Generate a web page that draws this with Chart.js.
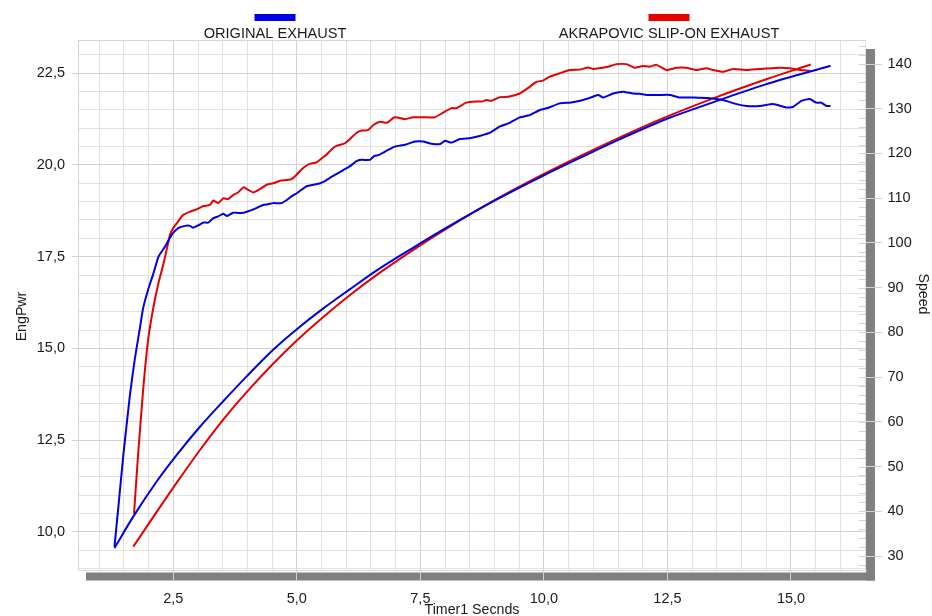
<!DOCTYPE html>
<html>
<head>
<meta charset="utf-8">
<title>Dyno run</title>
<script src="https://cdn.jsdelivr.net/npm/chart.js@4.4.1/dist/chart.umd.min.js"></script>
<style>
  html, body { margin: 0; padding: 0; background: #fff; }
  canvas { display: block; }
</style>
</head>
<body>
<canvas id="dyno" width="932" height="616"></canvas>
<script>
  "use strict";

  // run labels
  const runLabels = ["ORIGINAL EXHAUST", "AKRAPOVIC SLIP-ON EXHAUST"];

  // [time s, engine power] original exhaust
  const origPower = [
    [1.31, 9.59], [1.39, 10.7], [1.49, 12.1], [1.62, 13.7], [1.72, 14.7], [1.83, 15.6],
    [1.89, 16.1], [1.99, 16.6], [2.1, 17.05], [2.2, 17.5], [2.33, 17.77], [2.47, 18.1],
    [2.6, 18.28], [2.74, 18.34], [2.84, 18.34], [2.9, 18.29], [3.0, 18.35], [3.11, 18.43],
    [3.21, 18.43], [3.31, 18.55], [3.41, 18.6], [3.51, 18.67], [3.59, 18.61], [3.71, 18.7],
    [3.82, 18.69], [3.92, 18.7], [4.02, 18.74], [4.12, 18.79], [4.22, 18.85], [4.32, 18.91],
    [4.42, 18.93], [4.52, 18.96], [4.69, 18.96], [4.8, 19.05], [4.9, 19.15], [5.0, 19.23],
    [5.1, 19.33], [5.2, 19.42], [5.33, 19.46], [5.47, 19.5], [5.57, 19.56], [5.67, 19.65],
    [5.8, 19.75], [5.94, 19.86], [6.07, 19.96], [6.2, 20.1], [6.31, 20.14], [6.48, 20.14],
    [6.57, 20.25], [6.65, 20.27], [6.82, 20.39], [6.98, 20.5], [7.19, 20.55], [7.39, 20.64],
    [7.56, 20.64], [7.66, 20.6], [7.76, 20.57], [7.9, 20.57], [8.0, 20.66], [8.13, 20.61],
    [8.3, 20.71], [8.5, 20.73], [8.7, 20.79], [8.91, 20.88], [9.11, 21.05], [9.31, 21.15],
    [9.51, 21.3], [9.71, 21.36], [9.92, 21.5], [10.09, 21.56], [10.32, 21.68], [10.52, 21.7],
    [10.73, 21.75], [10.99, 21.86], [11.1, 21.91], [11.2, 21.84], [11.4, 21.95], [11.6, 22.0],
    [11.8, 21.95], [11.94, 21.94], [12.08, 21.91], [12.34, 21.91], [12.55, 21.91], [12.75, 21.84],
    [13.02, 21.84], [13.36, 21.82], [13.62, 21.77], [13.9, 21.66], [14.1, 21.61], [14.37, 21.61],
    [14.64, 21.66], [14.9, 21.57], [15.04, 21.58], [15.21, 21.75], [15.38, 21.8], [15.51, 21.7],
    [15.61, 21.7], [15.72, 21.61], [15.8, 21.61]
  ];

  // [time s, engine power] akrapovic slip-on
  const akraPower = [
    [1.705, 10.49], [1.79, 12.15], [1.89, 13.87], [1.99, 15.23], [2.1, 16.14], [2.2, 16.78],
    [2.3, 17.3], [2.4, 17.9], [2.43, 18.09], [2.5, 18.28], [2.57, 18.41], [2.7, 18.64],
    [2.84, 18.73], [2.97, 18.79], [3.11, 18.88], [3.24, 18.91], [3.31, 19.03], [3.41, 18.96],
    [3.51, 19.09], [3.61, 19.07], [3.71, 19.18], [3.81, 19.25], [3.92, 19.39], [4.02, 19.32],
    [4.12, 19.25], [4.25, 19.34], [4.39, 19.46], [4.52, 19.5], [4.66, 19.57], [4.79, 19.59],
    [4.89, 19.61], [4.97, 19.7], [5.06, 19.83], [5.16, 19.95], [5.26, 20.03], [5.4, 20.07],
    [5.53, 20.21], [5.6, 20.28], [5.7, 20.42], [5.8, 20.52], [5.97, 20.59], [6.07, 20.7],
    [6.21, 20.88], [6.31, 20.94], [6.44, 20.95], [6.55, 21.09], [6.68, 21.18], [6.82, 21.15],
    [6.98, 21.3], [7.19, 21.25], [7.35, 21.3], [7.56, 21.3], [7.79, 21.3], [7.96, 21.43],
    [8.13, 21.55], [8.23, 21.55], [8.43, 21.7], [8.64, 21.73], [8.74, 21.73], [8.84, 21.77],
    [8.94, 21.75], [9.11, 21.85], [9.28, 21.86], [9.51, 21.95], [9.71, 22.13], [9.85, 22.27],
    [9.98, 22.3], [10.12, 22.41], [10.32, 22.5], [10.52, 22.59], [10.73, 22.6], [10.89, 22.66],
    [10.99, 22.62], [11.27, 22.67], [11.47, 22.75], [11.67, 22.75], [11.84, 22.65], [12.0, 22.7],
    [12.14, 22.68], [12.28, 22.73], [12.48, 22.59], [12.68, 22.65], [12.88, 22.65], [13.09, 22.59],
    [13.29, 22.64], [13.42, 22.59], [13.62, 22.54], [13.83, 22.62], [14.1, 22.59], [14.37, 22.62],
    [14.64, 22.64], [14.77, 22.65], [14.97, 22.64], [15.18, 22.59], [15.44, 22.56]
  ];

  // [time s, speed]
  const origSpeed = [
    [1.31, 31.8], [1.69, 38.8], [2.16, 46.6], [2.57, 52.6], [3.04, 58.9], [3.51, 64.6],
    [3.98, 70.1], [4.52, 76.1], [5.0, 80.7], [5.53, 85.3], [6.07, 89.6], [6.61, 93.8],
    [7.35, 98.9], [8.03, 103.4], [9.01, 109.5], [9.98, 115.0], [10.73, 119.0], [11.54, 123.2],
    [12.48, 127.7], [13.49, 131.7], [14.5, 135.5], [15.8, 139.6]
  ];
  const akraSpeed = [
    [1.69, 32.1], [2.16, 39.8], [2.57, 46.4], [3.04, 53.7], [3.51, 60.5], [3.98, 66.6],
    [4.52, 73.0], [5.0, 78.2], [5.53, 83.4], [6.07, 88.3], [6.61, 92.8], [7.35, 98.4],
    [8.03, 103.2], [9.01, 109.6], [9.98, 115.3], [10.73, 119.4], [11.54, 123.6], [12.33, 127.5],
    [13.49, 132.6], [14.5, 136.6], [15.4, 139.9]
  ];

  // labelled ticks
  const timeLabels = [2.5, 5, 7.5, 10, 12.5, 15];
  const powerLabels = [10, 12.5, 15, 17.5, 20, 22.5];
  const speedLabels = [30, 40, 50, 60, 70, 80, 90, 100, 110, 120, 130, 140];

  const axisTitles = { x: "Timer1 Secnds", pwr: "EngPwr", spd: "Speed" };

  const BLUE = "#0000e6";
  const RED = "#e60000";
  const MINOR = "#e1e1e1";
  const MAJOR = "#d2d2d2";
  const EDGE = "#d6d6d6";
  const TEXT = "#1a1a1a";
  const FONT = "'Liberation Sans', Arial, sans-serif";

  const X_MIN = 0.5715, X_MAX = 16.518;
  const P_MIN = 8.956, P_MAX = 23.408;
  const S_MIN = 26.87, S_MAX = 145.37;

  function isLabel(v, list) {
    return list.some(l => Math.abs(l - v) < 1e-6);
  }

  function stepTicks(from, to, step) {
    const out = [];
    for (let v = from; v <= to + 1e-9; v += step) {
      out.push({ value: Math.round(v * 1000) / 1000 });
    }
    return out;
  }

  function fmt(v) {
    return v.toFixed(1).replace(".", ",");
  }

  function toXY(rows) {
    return rows.map(r => ({ x: r[0], y: r[1] }));
  }

  // grey shadow frame, right axis stubs, legend and axis titles
  const dynoFrame = {
    id: "dynoFrame",
    beforeDraw(chart) {
      const { ctx, chartArea: a } = chart;
      ctx.save();
      ctx.fillStyle = "#808080";
      ctx.fillRect(a.left + 8, a.bottom + 2.5, a.right - a.left + 1, 8);
      ctx.fillRect(a.right, a.top + 9, 9, a.bottom - a.top + 1.5);
      ctx.restore();
    },
    beforeDatasetsDraw(chart) {
      const { ctx, chartArea: a } = chart;
      const spd = chart.scales.spd;
      ctx.save();
      ctx.strokeStyle = MAJOR;
      ctx.lineWidth = 1;
      spd.ticks.forEach(t => {
        const y = Math.round(spd.getPixelForValue(t.value)) + 0.5;
        ctx.beginPath();
        ctx.moveTo(a.right - 7, y);
        ctx.lineTo(a.right, y);
        ctx.stroke();
      });
      ctx.restore();
    },
    afterDraw(chart) {
      const { ctx, chartArea: a } = chart;
      const w = a.right - a.left;
      ctx.save();
      ctx.fillStyle = TEXT;
      ctx.font = "14.6px " + FONT;
      ctx.textAlign = "center";
      ctx.textBaseline = "alphabetic";
      runLabels.forEach((label, i) => {
        const cx = a.left + w * (2 * i + 1) / 4;
        ctx.fillStyle = i === 0 ? BLUE : RED;
        ctx.fillRect(cx - 20.5, 14, 41, 7);
        ctx.fillStyle = TEXT;
        ctx.fillText(label, cx, 38.3);
      });

      ctx.font = "14.2px " + FONT;
      ctx.fillText(axisTitles.x, (a.left + a.right) / 2, 614.3);

      ctx.save();
      ctx.translate(26, 316.5);
      ctx.rotate(-Math.PI / 2);
      ctx.fillText(axisTitles.pwr, 0, 0);
      ctx.restore();

      ctx.save();
      ctx.translate(919, 294);
      ctx.rotate(Math.PI / 2);
      ctx.fillText(axisTitles.spd, 0, 0);
      ctx.restore();
      ctx.restore();
    }
  };

  Chart.defaults.font.family = FONT;
  Chart.defaults.font.size = 14.5;
  Chart.defaults.color = TEXT;

  function line(label, rows, color, axis, smooth) {
    return {
      label: label,
      data: toXY(rows),
      yAxisID: axis,
      showLine: true,
      borderColor: color,
      backgroundColor: color,
      borderWidth: 2,
      pointRadius: 0,
      fill: false,
      tension: smooth ? 0.4 : 0.15,
      cubicInterpolationMode: smooth ? "monotone" : "default"
    };
  }

  const chart = new Chart(document.getElementById("dyno"), {
    type: "scatter",
    data: {
      datasets: [
        line(runLabels[0], origPower, BLUE, "pwr", false),
        line(runLabels[0], origSpeed, BLUE, "spd", true),
        line(runLabels[1], akraPower, RED, "pwr", false),
        line(runLabels[1], akraSpeed, RED, "spd", true)
      ]
    },
    options: {
      responsive: false,
      animation: false,
      devicePixelRatio: 1,
      layout: { padding: { top: 40, left: 0, right: 0, bottom: 0 } },
      plugins: {
        legend: { display: false },
        tooltip: { enabled: false }
      },
      scales: {
        x: {
          type: "linear",
          position: "bottom",
          min: X_MIN,
          max: X_MAX,
          afterBuildTicks(scale) { scale.ticks = stepTicks(1, 16.5, 0.5); },
          afterFit(scale) { scale.height = 46; },
          grid: {
            color: c => isLabel(c.tick.value, timeLabels) ? MAJOR : MINOR,
            tickColor: c => isLabel(c.tick.value, timeLabels) ? MAJOR : "rgba(0,0,0,0)",
            tickLength: 11
          },
          border: { display: true, color: EDGE },
          ticks: {
            autoSkip: false,
            maxRotation: 0,
            padding: 9.3,
            callback: v => isLabel(v, timeLabels) ? fmt(v) : ""
          }
        },
        pwr: {
          type: "linear",
          position: "left",
          min: P_MIN,
          max: P_MAX,
          afterBuildTicks(scale) {
            scale.ticks = stepTicks(9, 23, 0.5).concat([{ value: P_MAX }]);
          },
          afterFit(scale) { scale.width = 78; },
          grid: {
            color: c => c.tick.value === P_MAX ? EDGE : (isLabel(c.tick.value, powerLabels) ? MAJOR : MINOR),
            tickColor: c => isLabel(c.tick.value, powerLabels) ? MAJOR : "rgba(0,0,0,0)",
            tickLength: 6
          },
          border: { display: true, color: EDGE },
          ticks: {
            autoSkip: false,
            padding: 7,
            callback: v => isLabel(v, powerLabels) ? fmt(v) : ""
          }
        },
        spd: {
          type: "linear",
          position: "right",
          min: S_MIN,
          max: S_MAX,
          afterBuildTicks(scale) { scale.ticks = stepTicks(28, 144, 2); },
          afterFit(scale) { scale.width = 66; },
          grid: {
            drawOnChartArea: false,
            tickColor: c => isLabel(c.tick.value, speedLabels) ? MAJOR : "rgba(0,0,0,0)",
            tickLength: 16
          },
          border: { display: false },
          ticks: {
            autoSkip: false,
            padding: 5.5,
            callback: v => isLabel(v, speedLabels) ? String(v) : ""
          }
        }
      }
    },
    plugins: [dynoFrame]
  });
</script>
</body>
</html>
